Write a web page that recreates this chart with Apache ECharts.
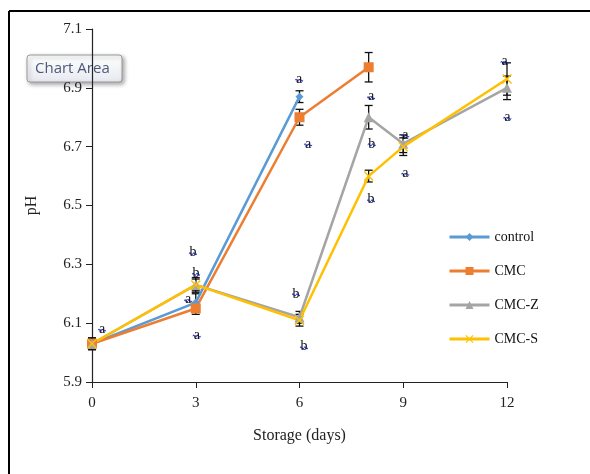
<!DOCTYPE html>
<html>
<head>
<meta charset="utf-8">
<script src="https://cdn.jsdelivr.net/npm/echarts@6/dist/echarts.min.js"></script>
<style>html,body{margin:0;padding:0;background:#fff;}#c{width:590px;height:474px;}</style>
</head>
<body>
<div id="c"></div>
<script>
// ---- data ----
var seriesNames = ['control', 'CMC', 'CMC-Z', 'CMC-S'];
var controlDays = [0, 3, 6];
var controlPH = [6.03, 6.17, 6.87];
var controlErr = [0.01, 0.03, 0.02];
var cmcDays = [0, 3, 6, 8];
var cmcPH = [6.03, 6.15, 6.80, 6.97];
var cmcErr = [0.02, 0.02, 0.027, 0.05];
var cmczDays = [0, 3, 6, 8, 9, 12];
var cmczPH = [6.03, 6.23, 6.12, 6.80, 6.71, 6.90];
var cmczErr = [0.02, 0.02, 0.02, 0.04, 0.03, 0.04];
var cmcsDays = [0, 3, 6, 8, 9, 12];
var cmcsPH = [6.03, 6.23, 6.11, 6.60, 6.70, 6.93];
var cmcsErr = [0.01, 0.025, 0.02, 0.02, 0.03, 0.055];
var xTicks = [0, 3, 6, 9, 12];
var yTicks = [5.9, 6.1, 6.3, 6.5, 6.7, 6.9, 7.1];
// significance letters (position in data units)
var letterX = [0.26, 2.89, 2.98, 2.75, 3.0, 5.96, 6.22, 5.87, 6.1, 8.04, 8.06, 8.04, 9.03, 9.03, 11.9, 11.98];
var letterY = [6.10, 6.36, 6.29, 6.20, 6.08, 6.95, 6.73, 6.22, 6.04, 6.89, 6.73, 6.54, 6.76, 6.63, 7.01, 6.82];
var letterText = ['a', 'b', 'b', 'a', 'a', 'a', 'a', 'b', 'b', 'a', 'b', 'b', 'a', 'a', 'a', 'a'];

var colors = ['#5B9BD5', '#ED7D31', '#A5A5A5', '#FFC000'];
var xSym = 'path://M1,0L5,4L9,0L10,1L6,5L10,9L9,10L5,6L1,10L0,9L4,5L0,1Z';
var squiggle = 'path://M0,2C1,0 2,0 3,2C4,4 5,4 6,2C7,0 8,0 9,2C10,4 11,4 12,2L12,4C11,6 10,6 9,4C8,2 7,2 6,4C5,6 4,6 3,4C2,2 1,2 0,4Z';

function pairs(xs, ys) { return xs.map(function (x, i) { return [x, ys[i]]; }); }
function errData(xs, ys, es) { return xs.map(function (x, i) { return [x, ys[i] - es[i], ys[i] + es[i]]; }); }

var allErr = [].concat(
  errData(controlDays, controlPH, controlErr),
  errData(cmcDays, cmcPH, cmcErr),
  errData(cmczDays, cmczPH, cmczErr),
  errData(cmcsDays, cmcsPH, cmcsErr)
);

var serif = '"Liberation Serif", "DejaVu Serif", serif';

function lineSeries(name, xs, ys, color, symbol, size) {
  return {
    name: name, type: 'line', data: pairs(xs, ys),
    symbol: symbol, symbolSize: size, showAllSymbol: true,
    lineStyle: { color: color, width: 2.5 },
    itemStyle: { color: color },
    z: 3
  };
}

var chart = echarts.init(document.getElementById('c'));
chart.setOption({
  animation: false,
  backgroundColor: '#fff',
  grid: { left: 92, right: 83, top: 29, bottom: 92 },
  xAxis: {
    type: 'value', min: 0, max: 12, interval: 3,
    name: 'Storage (days)', nameLocation: 'middle', nameGap: 46,
    nameTextStyle: { fontFamily: serif, fontSize: 16, color: '#222' },
    axisLine: { lineStyle: { color: '#222', width: 1.2 } },
    axisTick: { show: true, length: 6, lineStyle: { color: '#222' } },
    axisLabel: { fontFamily: serif, fontSize: 15, color: '#222', margin: 14 },
    splitLine: { show: false }
  },
  yAxis: {
    type: 'value', min: 5.9, max: 7.1, interval: 0.2,
    name: 'pH', nameLocation: 'middle', nameGap: 52, nameRotate: 90,
    nameTextStyle: { fontFamily: serif, fontSize: 16, color: '#222' },
    axisLine: { show: true, lineStyle: { color: '#222', width: 1.2 } },
    axisTick: { show: true, length: 6, lineStyle: { color: '#222' }, customValues: yTicks },
    axisLabel: { fontFamily: serif, fontSize: 15, color: '#222', margin: 10, customValues: yTicks,
      formatter: function (v) { return v.toFixed(1); } },
    splitLine: { show: false }
  },
  legend: {
    orient: 'vertical', left: 443, top: 225, itemWidth: 40, itemHeight: 10, itemGap: 20,
    data: seriesNames,
    lineStyle: { width: 3 },
    textStyle: { fontFamily: serif, fontSize: 14, color: '#111' }
  },
  series: [
    {
      type: 'custom', name: 'err', data: allErr, z: 2, silent: true,
      renderItem: function (params, api) {
        var x = api.value(0);
        var lo = api.coord([x, api.value(1)]);
        var hi = api.coord([x, api.value(2)]);
        var w = 4;
        var st = { stroke: '#111', lineWidth: 1.3 };
        return {
          type: 'group',
          children: [
            { type: 'line', shape: { x1: lo[0], y1: lo[1], x2: hi[0], y2: hi[1] }, style: st },
            { type: 'line', shape: { x1: lo[0] - w, y1: lo[1], x2: lo[0] + w, y2: lo[1] }, style: st },
            { type: 'line', shape: { x1: hi[0] - w, y1: hi[1], x2: hi[0] + w, y2: hi[1] }, style: st }
          ]
        };
      },
      encode: { x: 0, y: [1, 2] }
    },
    lineSeries('control', controlDays, controlPH, colors[0], 'diamond', 8),
    lineSeries('CMC', cmcDays, cmcPH, colors[1], 'rect', 10),
    lineSeries('CMC-Z', cmczDays, cmczPH, colors[2], 'triangle', 10),
    lineSeries('CMC-S', cmcsDays, cmcsPH, colors[3], xSym, 10),
    {
      type: 'scatter', name: 'letters', silent: true, z: 5,
      data: letterX.map(function (x, i) { return [x, letterY[i], letterText[i]]; }),
      symbol: squiggle, symbolSize: [8, 3], symbolOffset: [1, 7],
      itemStyle: { color: '#1f2fe8', opacity: 1 },
      label: {
        show: true, position: 'inside', offset: [0, -1],
        formatter: function (p) { return p.data[2]; },
        fontFamily: serif, fontSize: 14, color: '#111'
      }
    }
  ],
  graphic: [
    { type: 'line', shape: { x1: 9, y1: 11, x2: 590, y2: 11 }, style: { stroke: '#000', lineWidth: 2 }, z: 10 },
    { type: 'line', shape: { x1: 9, y1: 11, x2: 9, y2: 474 }, style: { stroke: '#000', lineWidth: 2 }, z: 10 },
    {
      type: 'group', z: 20,
      children: [
        { type: 'rect', shape: { x: 27, y: 55, width: 95, height: 27, r: 3 },
          style: {
            fill: new echarts.graphic.LinearGradient(0, 0, 0, 1, [{ offset: 0, color: '#ffffff' }, { offset: 1, color: '#e6e9f0' }]),
            stroke: '#9a9a9a', lineWidth: 1,
            shadowBlur: 4, shadowColor: 'rgba(0,0,0,0.35)', shadowOffsetX: 2, shadowOffsetY: 2
          } },
        { type: 'text', x: 35, y: 69,
          style: { text: 'Chart Area', fontFamily: '"Open Sans", "Noto Sans", sans-serif', fontSize: 15,
            fill: '#4c5a78', verticalAlign: 'middle' } }
      ]
    }
  ]
});
</script>
</body>
</html>
